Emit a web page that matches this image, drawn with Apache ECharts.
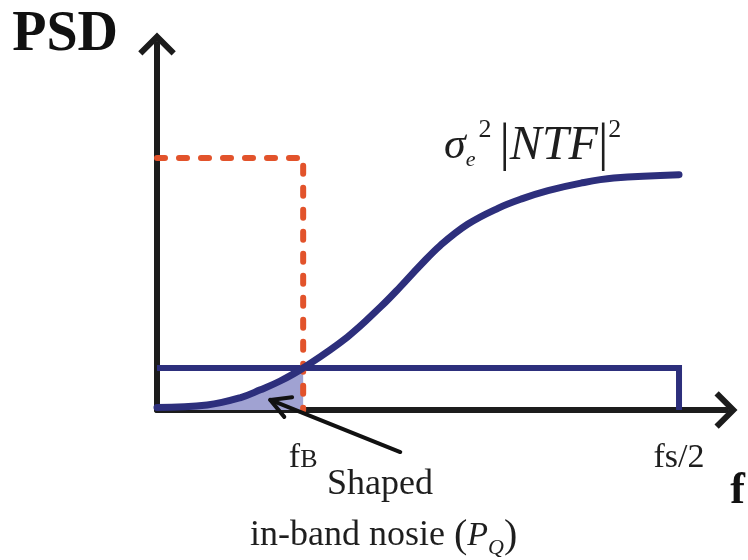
<!DOCTYPE html>
<html>
<head>
<meta charset="utf-8">
<script src="https://cdn.jsdelivr.net/npm/echarts@6/dist/echarts.min.js"></script>
<style>
  html, body { margin: 0; padding: 0; background: #ffffff; }
  #chart { width: 748px; height: 560px; }
</style>
</head>
<body>
<div id="chart"></div>
<script>
// Normalised frequency (fs/2 = 1) and PSD in units of the flat quantisation-noise level.
const ntfFreq = [0, 0.096, 0.159, 0.198, 0.236, 0.28, 0.365, 0.428, 0.466, 0.505, 0.543, 0.595, 0.653, 0.70, 0.749, 0.812, 0.875, 1.0];
const ntfPsd  = [0.06, 0.12, 0.29, 0.48, 0.69, 1.0, 1.74, 2.45, 2.93, 3.45, 3.92, 4.42, 4.80, 5.03, 5.22, 5.40, 5.52, 5.6];

// Flat (unshaped) quantisation noise and the in-band signal spectrum.
const noiseFreq = [0, 1, 1];
const noisePsd  = [1, 1, 0];
const signalFreq = [0, 0.28, 0.28];
const signalPsd  = [6, 6, 0];

// Frequency-axis marks and their labels.
const tickValues = [0.28, 1];
const tickLabels = ['fB', 'fs/2'];

// Pointer from the annotation to the shaded in-band noise.
const pointerFrom = [0.466, -1.0];
const pointerTo   = [0.217, 0.24];

const fB = tickValues[0];
const navy = '#2d2f7c';
const axisColor = '#1c1c1c';
const ink = '#1e1e1e';
const serif = '"Liberation Serif", "Times New Roman", serif';

const pair = (xs, ys) => xs.map((x, i) => [x, ys[i]]);
const ntfData = pair(ntfFreq, ntfPsd);
const inBand = ntfData.filter(p => p[0] <= fB + 1e-9);

// Open chevron used as the axis arrow head (points up, rotated by the axis).
const chevron = 'path://M20,0 L40,20 L35.5,24.5 L20,9 L4.5,24.5 L0,20 Z';

const chart = echarts.init(document.getElementById('chart'), null, { renderer: 'canvas' });

chart.setOption({
  animation: false,
  backgroundColor: '#ffffff',
  grid: { left: 157, right: 21, top: 44, bottom: 150, containLabel: false },
  xAxis: {
    type: 'value',
    min: 0,
    max: 1.09,
    splitLine: { show: false },
    axisTick: { show: false },
    axisLine: {
      show: true,
      onZero: true,
      symbol: ['none', chevron],
      symbolSize: [38, 23],
      lineStyle: { color: axisColor, width: 6 }
    },
    axisLabel: {
      show: true,
      customValues: tickValues,
      margin: 25,
      color: ink,
      fontFamily: serif,
      fontSize: 34,
      formatter: v => {
        const i = tickValues.findIndex(t => Math.abs(t - v) < 1e-9);
        const s = i >= 0 ? tickLabels[i] : '';
        return s === 'fB' ? '{f|f}{b|B}' : '{n|' + s + '}';
      },
      rich: {
        n: { fontFamily: serif, fontSize: 34, color: ink, lineHeight: 40, verticalAlign: 'bottom' },
        f: { fontFamily: serif, fontSize: 34, color: ink, lineHeight: 40, verticalAlign: 'bottom' },
        b: { fontFamily: serif, fontSize: 26, color: ink, lineHeight: 40, verticalAlign: 'bottom', padding: [0, 0, 2, 0] }
      }
    },
    name: 'f',
    nameLocation: 'end',
    nameGap: 19,
    nameTextStyle: {
      fontFamily: serif, fontWeight: 'bold', fontSize: 44, color: '#111',
      align: 'right', verticalAlign: 'top', padding: [60, 0, 0, 0]
    }
  },
  yAxis: {
    type: 'value',
    min: 0,
    max: 8.71,
    splitLine: { show: false },
    axisTick: { show: false },
    axisLabel: { show: false },
    axisLine: {
      show: true,
      symbol: ['none', chevron],
      symbolSize: [38, 23],
      lineStyle: { color: axisColor, width: 6 }
    },
    name: 'PSD',
    nameLocation: 'end',
    nameGap: 8,
    nameTextStyle: {
      fontFamily: serif, fontWeight: 'bold', fontSize: 56, color: '#111',
      align: 'right', verticalAlign: 'middle', padding: [0, 39, 0, 0]
    }
  },
  series: [
    {
      // Shaped in-band noise power
      type: 'line',
      data: inBand,
      smooth: 0.4,
      symbol: 'none',
      lineStyle: { width: 0 },
      areaStyle: { color: '#a0a2d2', opacity: 1, origin: 'start' },
      z: 2
    },
    {
      type: 'line',
      data: pair(noiseFreq, noisePsd),
      symbol: 'none',
      lineStyle: { color: navy, width: 6, join: 'miter' },
      z: 3
    },
    {
      type: 'line',
      data: pair(signalFreq, signalPsd),
      symbol: 'none',
      lineStyle: { color: '#e2532b', width: 6, type: [8, 14], cap: 'round' },
      z: 4
    },
    {
      // Noise transfer function shaping curve
      type: 'line',
      data: ntfData,
      smooth: 0.4,
      symbol: 'none',
      lineStyle: { color: navy, width: 7, cap: 'round' },
      z: 5
    },
    {
      type: 'custom',
      data: [[pointerFrom[0], pointerFrom[1], pointerTo[0], pointerTo[1]]],
      encode: { x: [0, 2], y: [1, 3] },
      clip: false,
      z: 6,
      renderItem: (params, api) => {
        const a = api.coord([api.value(0), api.value(1)]);
        const b = api.coord([api.value(2), api.value(3)]);
        const ang = Math.atan2(a[1] - b[1], a[0] - b[0]);
        const len = 22, spread = 0.5;
        const arm = s => [b[0] + len * Math.cos(ang + s), b[1] + len * Math.sin(ang + s)];
        const style = { stroke: '#111', lineWidth: 4, lineCap: 'round', lineJoin: 'round', fill: null };
        return {
          type: 'group',
          children: [
            { type: 'line', shape: { x1: a[0], y1: a[1], x2: b[0], y2: b[1] }, style },
            { type: 'polyline', shape: { points: [arm(spread), b, arm(-spread)] }, style }
          ]
        };
      }
    }
  ],
  graphic: [
    {
      type: 'text',
      left: 444,
      top: 117,
      style: {
        text: '{s|σ}{e|e}{p1|2}{bar||}{i|NTF}{bar||}{p|2}',
        fontFamily: serif,
        rich: {
          s: { fontFamily: serif, fontStyle: 'italic', fontSize: 44, fill: ink, lineHeight: 58, verticalAlign: 'middle' },
          e: { fontFamily: serif, fontStyle: 'italic', fontSize: 22, fill: ink, lineHeight: 58, verticalAlign: 'bottom', padding: [0, 3, 4, 0] },
          p1: { fontFamily: serif, fontSize: 26, fill: ink, lineHeight: 58, verticalAlign: 'top', padding: [0, 8, 0, 0] },
          p: { fontFamily: serif, fontSize: 26, fill: ink, lineHeight: 58, verticalAlign: 'top' },
          i: { fontFamily: serif, fontStyle: 'italic', fontSize: 48, fill: ink, lineHeight: 58, verticalAlign: 'middle' },
          bar: { fontFamily: serif, fontSize: 52, fill: ink, lineHeight: 58, verticalAlign: 'middle' }
        }
      }
    },
    {
      type: 'text',
      left: 327,
      top: 467,
      style: { text: 'Shaped', fontFamily: serif, fontSize: 36, fill: ink }
    },
    {
      type: 'text',
      left: 250,
      top: 516,
      style: {
        text: '{t|in-band nosie }{par|(}{P|P}{Q|Q}{par|)}',
        fontFamily: serif,
        fontSize: 36,
        fill: ink,
        rich: {
          t: { fontFamily: serif, fontSize: 36, fill: ink, lineHeight: 46, verticalAlign: 'middle' },
          par: { fontFamily: serif, fontSize: 40, fill: ink, lineHeight: 46, verticalAlign: 'middle' },
          P: { fontFamily: serif, fontStyle: 'italic', fontSize: 34, fill: ink, lineHeight: 46, verticalAlign: 'middle' },
          Q: { fontFamily: serif, fontStyle: 'italic', fontSize: 22, fill: ink, lineHeight: 46, verticalAlign: 'bottom' }
        }
      }
    }
  ]
});
</script>
</body>
</html>
